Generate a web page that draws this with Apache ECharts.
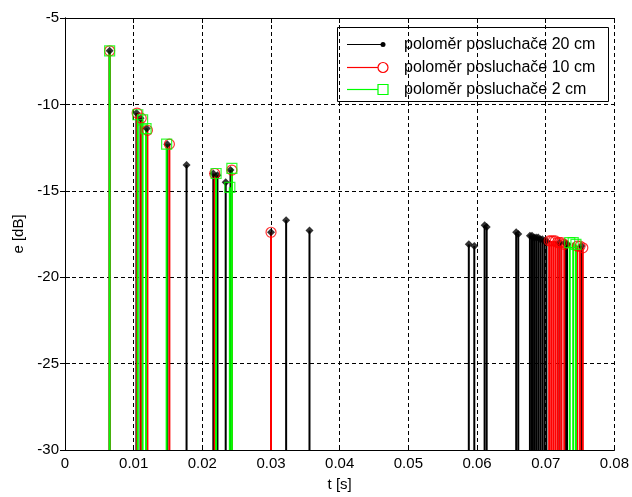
<!DOCTYPE html>
<html>
<head>
<meta charset="utf-8">
<script src="https://cdn.jsdelivr.net/npm/echarts@6/dist/echarts.min.js"></script>
<style>
  html, body { margin: 0; padding: 0; background: #fff; }
  #chart { width: 632px; height: 497px; }
</style>
</head>
<body>
<div id="chart"></div>
<script>
// poloměr posluchače 20 cm (černá)
const tBlack = [0.0065, 0.0104, 0.0110, 0.0119, 0.0149, 0.0177, 0.0216, 0.0222, 0.0234, 0.0241,
  0.0300, 0.0322, 0.0356, 0.0588, 0.0596, 0.0611, 0.0614, 0.0657, 0.0660, 0.0677,
  0.0680, 0.0683, 0.0686, 0.0689, 0.0692, 0.0695, 0.0698, 0.0701, 0.0720, 0.0728,
  0.0731, 0.0752];
const eBlack = [-6.9, -10.5, -10.8, -11.4, -12.3, -13.5, -14.0, -14.1, -14.5, -13.8,
  -17.4, -16.7, -17.3, -18.1, -18.2, -17.0, -17.1, -17.4, -17.5, -17.6,
  -17.6, -17.7, -17.7, -17.7, -17.8, -17.8, -17.9, -17.9, -18.0, -18.0,
  -18.1, -18.2];
// poloměr posluchače 10 cm (červená)
const tRed = [0.0065, 0.0105, 0.0111, 0.0120, 0.0152, 0.0218, 0.0243, 0.0300,
  0.0705, 0.0708, 0.0711, 0.0714, 0.0717, 0.0720, 0.0723, 0.0727, 0.0746, 0.0750, 0.0754];
const eRed = [-6.9, -10.5, -10.8, -11.5, -12.3, -14.0, -13.8, -17.4,
  -17.9, -17.9, -17.9, -17.9, -18.0, -18.0, -18.0, -18.1, -18.2, -18.2, -18.3];
// poloměr posluchače 2 cm (zelená)
const tGreen = [0.0065, 0.0106, 0.0113, 0.0118, 0.0148, 0.0220, 0.0240, 0.0243,
  0.0735, 0.0740, 0.0744];
const eGreen = [-6.9, -10.6, -10.9, -11.4, -12.3, -14.0, -14.8, -13.7,
  -18.0, -18.0, -18.1];

const legendNames = ["poloměr posluchače 20 cm", "poloměr posluchače 10 cm", "poloměr posluchače 2 cm"];
const xTicks = ["0", "0.01", "0.02", "0.03", "0.04", "0.05", "0.06", "0.07", "0.08"];

const BASE = -30;
const FONT = "Liberation Sans, Arial, sans-serif";

const myChart = echarts.init(document.getElementById("chart"));

function pairs(t, e) {
  return t.map((v, i) => [v, e[i]]);
}

// stonek od -30 do hodnoty
function stems(name, t, e, color) {
  return {
    name: name,
    type: "custom",
    data: pairs(t, e),
    renderItem(params, api) {
      const top = api.coord([api.value(0), api.value(1)]);
      const bot = api.coord([api.value(0), BASE]);
      return {
        type: "line",
        shape: { x1: top[0], y1: top[1], x2: bot[0], y2: bot[1] },
        style: { stroke: color, lineWidth: 2 },
      };
    },
    encode: { x: 0, y: 1 },
    silent: true,
  };
}

function marks(name, t, e, symbol, size, style) {
  return {
    name: name,
    type: "scatter",
    data: pairs(t, e),
    symbol: symbol,
    symbolSize: size,
    itemStyle: style,
    silent: true,
  };
}

const axisCommon = {
  axisLine: { show: true, lineStyle: { color: "#000", width: 1 } },
  axisTick: { show: true, inside: true, length: 5, lineStyle: { color: "#000" } },
};

const dashed = { show: true, lineStyle: { color: "#000", width: 1, type: [4, 3] } };

// legenda jako v MATLABu (značka na konci čáry)
const lx = 337, ly = 27;
const rowY = [17.5, 40.5, 62.5];
const legendGraphic = {
  type: "group",
  left: lx,
  top: ly,
  children: [
    { type: "rect", shape: { x: 0.5, y: 0.5, width: 271, height: 74 },
      style: { fill: "#fff", stroke: "#000", lineWidth: 1 } },
    { type: "line", shape: { x1: 10, y1: rowY[0], x2: 46, y2: rowY[0] }, style: { stroke: "#000", lineWidth: 1.2 } },
    { type: "circle", shape: { cx: 46, cy: rowY[0], r: 2.5 }, style: { fill: "#000" } },
    { type: "line", shape: { x1: 10, y1: rowY[1], x2: 41, y2: rowY[1] }, style: { stroke: "#f00", lineWidth: 1.2 } },
    { type: "circle", shape: { cx: 46, cy: rowY[1], r: 5 }, style: { fill: "none", stroke: "#f00", lineWidth: 1.2 } },
    { type: "line", shape: { x1: 10, y1: rowY[2], x2: 41, y2: rowY[2] }, style: { stroke: "#0f0", lineWidth: 1.2 } },
    { type: "rect", shape: { x: 41, y: rowY[2] - 5, width: 10, height: 10 }, style: { fill: "none", stroke: "#0f0", lineWidth: 1.2 } },
  ].concat(legendNames.map((n, i) => ({
    type: "text",
    x: 67,
    y: rowY[i],
    style: { text: n, font: "16px " + FONT, fill: "#000", verticalAlign: "middle" },
  }))),
};

const option = {
  backgroundColor: "#fff",
  animation: false,
  grid: { left: 65, right: 17, top: 18, bottom: 45 },
  xAxis: [
    Object.assign({
      type: "value", min: 0, max: 0.08, interval: 0.01, position: "bottom",
      name: "t [s]", nameLocation: "middle", nameGap: 27,
      nameTextStyle: { color: "#000", fontSize: 15, fontFamily: FONT },
      axisLabel: { color: "#000", fontSize: 15, fontFamily: FONT, margin: 6,
        formatter: (v) => xTicks[Math.round(v * 100)] },
      splitLine: dashed,
    }, axisCommon),
    Object.assign({
      type: "value", min: 0, max: 0.08, interval: 0.01, position: "top",
      axisLabel: { show: false }, splitLine: { show: false },
    }, axisCommon),
  ],
  yAxis: [
    Object.assign({
      type: "value", min: -30, max: -5, interval: 5, position: "left",
      name: "e [dB]", nameLocation: "middle", nameGap: 38, nameRotate: 90,
      nameTextStyle: { color: "#000", fontSize: 15, fontFamily: FONT },
      axisLabel: { color: "#000", fontSize: 15, fontFamily: FONT, margin: 6 },
      splitLine: dashed,
    }, axisCommon),
    Object.assign({
      type: "value", min: -30, max: -5, interval: 5, position: "right",
      axisLabel: { show: false }, splitLine: { show: false },
    }, axisCommon),
  ],
  series: [
    stems(legendNames[0], tBlack, eBlack, "#000"),
    marks(legendNames[0], tBlack, eBlack, "diamond", 8, { color: "#000" }),
    stems(legendNames[1], tRed, eRed, "#f00"),
    marks(legendNames[1], tRed, eRed, "circle", 10, { color: "none", borderColor: "#f00", borderWidth: 1.2 }),
    stems(legendNames[2], tGreen, eGreen, "#0f0"),
    marks(legendNames[2], tGreen, eGreen, "rect", 10, { color: "none", borderColor: "#0f0", borderWidth: 1.2 }),
  ],
  graphic: [legendGraphic],
};

myChart.setOption(option);
</script>
</body>
</html>
